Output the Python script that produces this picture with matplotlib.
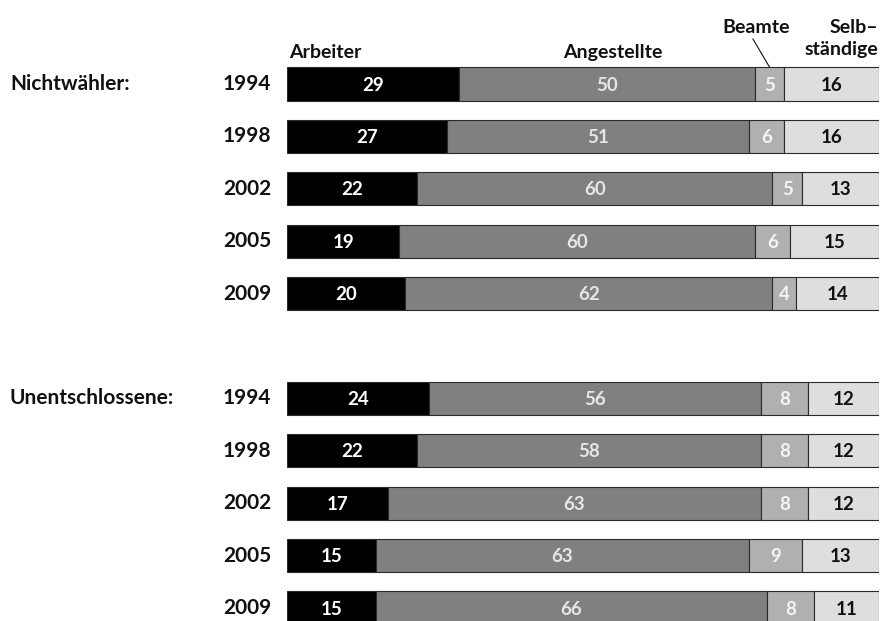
import matplotlib.pyplot as plt

groups = ['Nichtwähler:', 'Unentschlossene:']
years = ['1994', '1998', '2002', '2005', '2009']
categories = ['Arbeiter', 'Angestellte', 'Beamte', 'Selbständige']

arbeiter = [29, 27, 22, 19, 20, 24, 22, 17, 15, 15]
angestellte = [50, 51, 60, 60, 62, 56, 58, 63, 63, 66]
beamte = [5, 6, 5, 6, 4, 8, 8, 8, 9, 8]
selbst = [16, 16, 13, 15, 14, 12, 12, 12, 13, 11]

series = [arbeiter, angestellte, beamte, selbst]
colors = ['#000000', '#808080', '#b0b0b0', '#dedede']
text_colors = ['white', '#e6e6e6', '#f4f4f4', '#111111']

plt.rcParams['font.family'] = ['Lato', 'DejaVu Sans']

fig = plt.figure(figsize=(8.82, 6.21), dpi=100)
ax = fig.add_axes([287 / 882, 0, 592 / 882, 1])
ax.set_xlim(0, 100)
ax.set_ylim(10.248, -1.603)
ax.axis('off')

# row positions: 5 rows per group, one empty slot between
ypos = [i for i in range(5)] + [i + 6 for i in range(5)]

lefts = [0] * len(ypos)
for vals, col, tcol in zip(series, colors, text_colors):
    ax.barh(ypos, vals, left=lefts, height=0.63, color=col,
            edgecolor='#2a2a2a', linewidth=0.8)
    for y, l, v in zip(ypos, lefts, vals):
        ax.text(l + v / 2, y + 0.02, str(v), ha='center', va='center',
                color=tcol, fontsize=13.5, fontweight='bold')
    lefts = [l + v for l, v in zip(lefts, vals)]

for i, y in enumerate(ypos):
    ax.text(-2.7, y, years[i % 5], ha='right', va='center',
            fontsize=15, fontweight='bold', color='#111111', clip_on=False)

for g, y in zip(groups, [ypos[0], ypos[5]]):
    ax.text(-46.8, y, g, ha='left', va='center',
            fontsize=15, fontweight='bold', color='#111111', clip_on=False)

# column headers
hkw = dict(fontsize=14, fontweight='bold', color='#111111', va='baseline')
ax.text(0.4, -0.496, categories[0], ha='left', **hkw)
ax.text(55, -0.496, categories[1], ha='center', **hkw)
ax.text(79.3, -0.973, categories[2], ha='center', **hkw)
ax.text(99.9, -0.973, 'Selb–', ha='right', **hkw)
ax.text(99.9, -0.553, 'ständige', ha='right', **hkw)
bx = arbeiter[0] + angestellte[0] + beamte[0] / 2
ax.plot([bx - 2.8, bx], [-0.86, -0.324], color='#111111', lw=0.8,
        clip_on=False)

fig.savefig('out.png', dpi=100)
